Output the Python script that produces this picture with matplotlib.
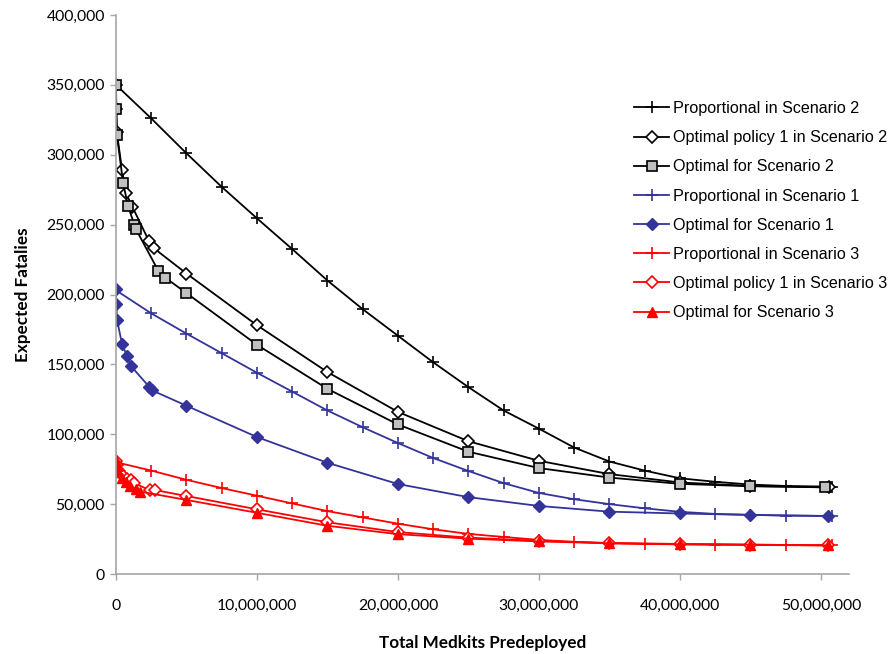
import matplotlib
matplotlib.use("Agg")
import matplotlib.pyplot as plt
from matplotlib.ticker import FuncFormatter

# x in millions of medkits, y in thousands of fatalities
prop_x = [0, 2.5, 5, 7.5, 10, 12.5, 15, 17.5, 20, 22.5, 25, 27.5, 30, 32.5, 35,
          37.5, 40, 42.5, 45, 47.5, 50.8]

prop_s2 = [350, 326, 301, 277, 254.5, 232.5, 210, 189.5, 170.5, 151.5, 133.7,
           117, 104, 90.5, 80.5, 74, 68.5, 66, 64, 63, 62.5]
prop_s1 = [203, 186.5, 172, 158, 144, 130.5, 117, 105, 93.7, 83, 73.7, 65, 58,
           53.5, 50, 47, 44.5, 43, 42.3, 41.8, 41.5]
prop_s3 = [80, 74, 67.4, 61.5, 56, 50.5, 45, 40.5, 36, 32, 28.7, 26.5, 24.4,
           23, 22, 21.5, 21.2, 21, 20.8, 20.6, 20.5]

pol1_s2_x = [0, 0.02, 0.05, 0.43, 0.7, 1.16, 2.35, 2.7, 5, 10, 15, 20, 25, 30,
             35, 40, 45, 50.6]
pol1_s2 = [350, 333, 316.5, 289, 272.6, 262.8, 238, 233, 215, 178, 144.5, 116,
           95, 81, 71.5, 65.5, 63, 62]

opt_s2_x = [0, 0.02, 0.07, 0.5, 0.86, 1.3, 1.4, 3.0, 3.5, 5, 10, 15, 20, 25,
            30, 35, 40, 45, 50.3]
opt_s2 = [350, 332.7, 314, 280, 263, 250, 247, 217, 212, 201, 164, 132.5, 107,
          87.5, 75.8, 69, 64.5, 62.8, 62]

opt_s1_x = [0, 0.02, 0.07, 0.43, 0.78, 1.07, 2.35, 2.56, 5, 10, 15, 20, 25, 30,
            35, 40, 45, 50.5]
opt_s1 = [203.6, 193, 182, 164.5, 156, 148.7, 134, 131.4, 120.4, 98, 79.6,
          64.4, 55, 48.7, 44.6, 43.3, 42.3, 41.5]

pol1_s3_x = [0, 0.05, 0.2, 0.5, 0.8, 1.05, 1.3, 2.4, 2.8, 5, 10, 15, 20, 25,
             30, 35, 40, 45, 50.5]
pol1_s3 = [81, 78, 74, 70, 68, 67, 65, 60, 60, 55.8, 46.3, 37, 30, 26, 23.7,
           22.2, 21.5, 21, 20.5]

opt_s3_x = [0, 0.05, 0.15, 0.4, 0.7, 1.0, 1.4, 1.7, 5, 10, 15, 20, 25, 30, 35,
            40, 45, 50.5]
opt_s3 = [81, 77, 73, 69, 66, 63, 60.5, 59, 53, 43.8, 34.5, 28.5, 25.3, 23.3,
          22, 21.3, 21, 20.5]

black = "#000000"
blue = "#333399"
red = "#FF0000"

fig = plt.figure(figsize=(8.93, 6.54), dpi=100)
ax = fig.add_axes([116 / 893, 1 - 574 / 654, (849 - 116) / 893, (574 - 15) / 654])


def m(v):
    return [a * 1e6 for a in v]


def k(v):
    return [a * 1e3 for a in v]


lw = 1.3
ax.plot(m(prop_x), k(prop_s2), color=black, lw=lw, marker="+", ms=8, mew=1.2,
        label="Proportional in Scenario 2")
ax.plot(m(pol1_s2_x), k(pol1_s2), color=black, lw=lw, marker="D", ms=6.5,
        mfc="white", mec=black, mew=1.2, label="Optimal policy 1 in Scenario 2")
ax.plot(m(opt_s2_x), k(opt_s2), color=black, lw=lw, marker="s", ms=7,
        mfc="#C0C0C0", mec=black, mew=1.2, label="Optimal for Scenario 2")
ax.plot(m(prop_x), k(prop_s1), color=blue, lw=lw, marker="+", ms=8, mew=1.2,
        label="Proportional in Scenario 1")
ax.plot(m(opt_s1_x), k(opt_s1), color=blue, lw=lw, marker="D", ms=6.5,
        mfc=blue, mec=blue, label="Optimal for Scenario 1")
ax.plot(m(prop_x), k(prop_s3), color=red, lw=lw, marker="+", ms=8, mew=1.2,
        label="Proportional in Scenario 3")
ax.plot(m(pol1_s3_x), k(pol1_s3), color=red, lw=lw, marker="D", ms=6.5,
        mfc="white", mec=red, mew=1.2, label="Optimal policy 1 in Scenario 3")
ax.plot(m(opt_s3_x), k(opt_s3), color=red, lw=lw, marker="^", ms=7.5,
        mfc=red, mec=red, label="Optimal for Scenario 3")

ax.set_xlim(0, 52e6)
ax.set_ylim(0, 400000)
ax.set_xticks([0, 10e6, 20e6, 30e6, 40e6, 50e6])
ax.set_yticks(range(0, 400001, 50000))
fmt = FuncFormatter(lambda v, p: "{:,.0f}".format(v))
ax.xaxis.set_major_formatter(fmt)
ax.yaxis.set_major_formatter(fmt)

for s in ["top", "right"]:
    ax.spines[s].set_visible(False)
for s in ["left", "bottom"]:
    ax.spines[s].set_color("#A6A6A6")
    ax.spines[s].set_linewidth(1.2)
ax.tick_params(axis="both", color="#A6A6A6", length=4, width=1,
               labelsize=11.3, labelcolor="black")
ax.tick_params(axis="x", pad=14)
ax.tick_params(axis="y", pad=4)
for t in ax.get_xticklabels() + ax.get_yticklabels():
    t.set_family("Lato")

ax.set_xlabel("Total Medkits Predeployed", family="Lato", fontweight="bold",
              fontsize=12.3, labelpad=16)
ax.set_ylabel("Expected Fatalies", family="Lato", fontweight="bold",
              fontsize=12.3, labelpad=11)

leg = ax.legend(loc="upper left", bbox_to_anchor=(634 / 893, 1 - 101 / 654),
                bbox_transform=fig.transFigure, frameon=False,
                prop={"family": "Liberation Sans", "size": 11.6},
                handlelength=2.2, handletextpad=0.25, labelspacing=0.88,
                borderpad=0, borderaxespad=0)

fig.savefig("out.png", dpi=100)
